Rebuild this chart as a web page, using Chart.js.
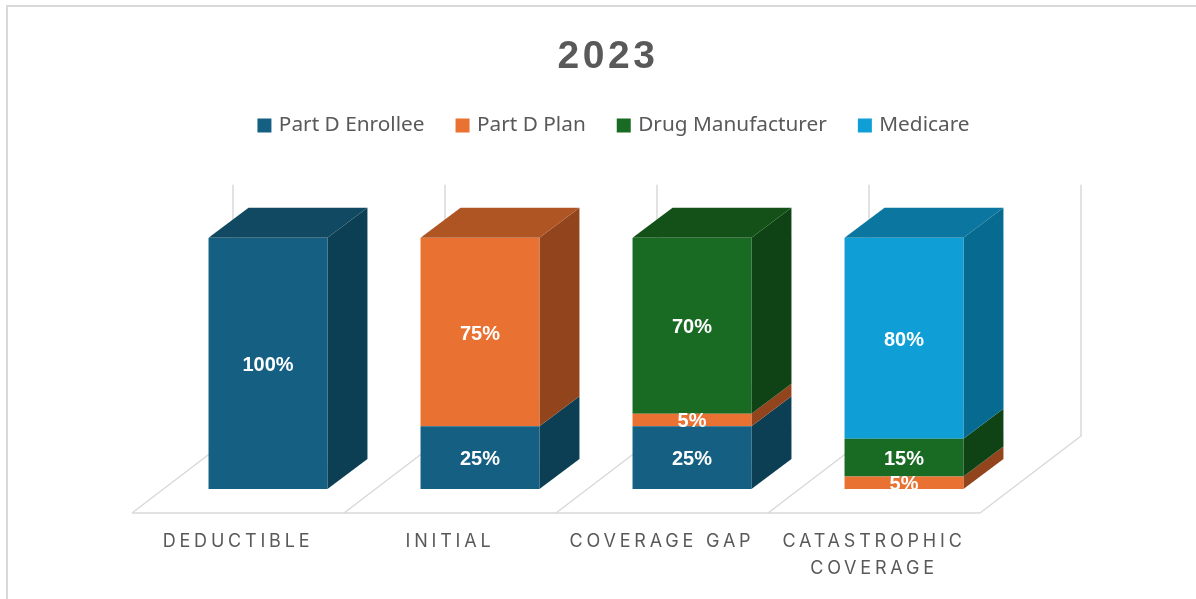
<!DOCTYPE html>
<html>
<head>
<meta charset="utf-8">
<title>2023</title>
<style>
    html, body { margin: 0; padding: 0; background: #fff; overflow: hidden; }
    #frame { position: absolute; left: 6px; top: 5px; right: 0; bottom: 0; border-left: 2px solid #d9d9d9; border-top: 2px solid #d9d9d9; }
    #chart { position: absolute; left: 0; top: 0; }
</style>
</head>
<body>
<div id="frame"></div>
<canvas id="chart" width="1196" height="599"></canvas>
<script src="https://cdn.jsdelivr.net/npm/chart.js@4"></script>
<script>
// Coverage phases and who pays what share (%) in each
const phases = ['DEDUCTIBLE', 'INITIAL', 'COVERAGE GAP', ['CATASTROPHIC', 'COVERAGE']];
const enrollee = [100, 25, 25, 0];
const plan = [0, 75, 5, 5];
const manufacturer = [0, 0, 70, 15];
const medicare = [0, 0, 0, 80];

const TEXT_COLOR = '#595959';
const GRID_COLOR = '#d9d9d9';

// front, side and top face colours of each payer
const FACES = {
    enrollee: ['#156082', '#0c3f53', '#124962'],
    plan: ['#e97132', '#92451d', '#af5524'],
    manufacturer: ['#196b24', '#0f4316', '#135119'],
    medicare: ['#0f9ed5', '#076a90', '#0b77a0']
};

// Fake 3D offsets in px: bar depth, and floor edges relative to the bar base
const BAR_DX = 40, BAR_DY = 30;
const FLOOR_FRONT_DX = 30, FLOOR_FRONT_DY = 24;
const FLOOR_BACK_DX = 71, FLOOR_BACK_DY = 53;

const TITLE_CENTER = 608, LEGEND_CENTER = 615, LEGEND_TOP = 81;

function series(label, data, faces) {
    return { label, data, backgroundColor: faces[0], sideColor: faces[1], topColor: faces[2], borderWidth: 0 };
}

function poly(ctx, color, pts) {
    ctx.fillStyle = color;
    ctx.beginPath();
    pts.forEach((p, i) => i ? ctx.lineTo(p[0], p[1]) : ctx.moveTo(p[0], p[1]));
    ctx.closePath();
    ctx.fill();
}

// Runs a draw method with canvas letter spacing turned on
function spaced(ctx, box, method, spacing) {
    const original = box[method].bind(box);
    box[method] = function (arg) {
        ctx.save();
        ctx.letterSpacing = spacing;
        original(arg);
        ctx.restore();
    };
}

// Title and legend sit apart from the plot, so place them after the layout pass
const headerPlugin = {
    id: 'header',
    afterLayout(chart) {
        const title = chart.titleBlock, legend = chart.legend;
        const half = (title.right - title.left) / 2;
        title.left = TITLE_CENTER - half;
        title.right = TITLE_CENTER + half;
        legend.left = LEGEND_CENTER - half;
        legend.right = LEGEND_CENTER + half;
        const h = legend.bottom - legend.top;
        legend.top = LEGEND_TOP;
        legend.bottom = LEGEND_TOP + h;
        spaced(chart.ctx, title, 'draw', '3.5px');
        spaced(chart.ctx, chart.scales.x, 'drawLabels', '3.8px');
    }
};

// Floor, back wall lines and the side/top faces of the bars
const depthPlugin = {
    id: 'depth',
    beforeDatasetsDraw(chart) {
        const { ctx, scales: { x, y } } = chart;
        const base = y.getPixelForValue(0), top = y.getPixelForValue(100);
        const step = x.getPixelForValue(1) - x.getPixelForValue(0);
        const start = x.getPixelForValue(0) - step / 2;

        ctx.save();
        ctx.strokeStyle = GRID_COLOR;
        ctx.lineWidth = 1.5;
        ctx.beginPath();
        ctx.moveTo(start - FLOOR_FRONT_DX, base + FLOOR_FRONT_DY);
        ctx.lineTo(start + step * phases.length - FLOOR_FRONT_DX, base + FLOOR_FRONT_DY);
        for (let i = 0; i <= phases.length; i++) {
            const px = start + step * i;
            ctx.moveTo(px - FLOOR_FRONT_DX, base + FLOOR_FRONT_DY);
            ctx.lineTo(px + FLOOR_BACK_DX, base - FLOOR_BACK_DY);
            ctx.lineTo(px + FLOOR_BACK_DX, top - FLOOR_BACK_DY);
        }
        ctx.stroke();

        chart.data.datasets.forEach((ds, d) => {
            chart.getDatasetMeta(d).data.forEach((bar, i) => {
                if (!ds.data[i]) return;
                const left = bar.x - bar.width / 2, right = bar.x + bar.width / 2;
                poly(ctx, ds.sideColor, [
                    [right, bar.y], [right + BAR_DX, bar.y - BAR_DY],
                    [right + BAR_DX, bar.base - BAR_DY], [right, bar.base]
                ]);
                // only the last non-empty segment of a stack shows its top
                const isTop = chart.data.datasets.slice(d + 1).every(o => !o.data[i]);
                if (isTop) {
                    poly(ctx, ds.topColor, [
                        [left, bar.y], [left + BAR_DX, bar.y - BAR_DY],
                        [right + BAR_DX, bar.y - BAR_DY], [right, bar.y]
                    ]);
                }
            });
        });
        ctx.restore();
    },
    afterDatasetsDraw(chart) {
        const { ctx } = chart;
        ctx.save();
        ctx.fillStyle = '#fff';
        ctx.font = 'bold 20px "Liberation Sans"';
        ctx.textAlign = 'center';
        ctx.textBaseline = 'middle';
        chart.data.datasets.forEach((ds, d) => {
            chart.getDatasetMeta(d).data.forEach((bar, i) => {
                if (!ds.data[i]) return;
                ctx.fillText(ds.data[i] + '%', bar.x, (bar.y + bar.base) / 2 + 2);
            });
        });
        ctx.restore();
    }
};

Chart.defaults.font.family = '"Noto Sans"';
Chart.defaults.color = TEXT_COLOR;

new Chart(document.getElementById('chart').getContext('2d'), {
    type: 'bar',
    data: {
        labels: phases,
        datasets: [
            series('Part D Enrollee', enrollee, FACES.enrollee),
            series('Part D Plan', plan, FACES.plan),
            series('Drug Manufacturer', manufacturer, FACES.manufacturer),
            series('Medicare', medicare, FACES.medicare)
        ]
    },
    options: {
        responsive: false,
        animation: false,
        layout: { padding: { left: 162, right: 186, top: 0, bottom: 0 } },
        barPercentage: 1,
        categoryPercentage: 0.561,
        plugins: {
            tooltip: { enabled: false },
            title: {
                display: true,
                text: '2023',
                color: TEXT_COLOR,
                font: { family: '"Liberation Sans"', size: 39, weight: 'bold', lineHeight: 1 },
                padding: { top: 38, bottom: 96 }
            },
            legend: {
                display: true,
                position: 'top',
                labels: {
                    color: TEXT_COLOR,
                    font: { size: 20.8 },
                    boxWidth: 8,
                    boxHeight: 8,
                    padding: 34,
                    // a thick same-colour stroke keeps the swatch at 14px but closer to its text
                    generateLabels: chart => chart.data.datasets.map((ds, i) => ({
                        text: ds.label,
                        fontColor: TEXT_COLOR,
                        fillStyle: ds.backgroundColor,
                        strokeStyle: ds.backgroundColor,
                        lineWidth: 6,
                        datasetIndex: i
                    }))
                }
            }
        },
        scales: {
            x: {
                stacked: true,
                grid: { display: false, drawTicks: false },
                border: { display: false },
                afterFit: scale => { scale.height = 110; },
                ticks: {
                    color: TEXT_COLOR,
                    font: { family: 'Inter', size: 18, lineHeight: 1.5 },
                    padding: 39,
                    labelOffset: -30,
                    maxRotation: 0,
                    autoSkip: false
                }
            },
            y: { stacked: true, display: false, min: 0, max: 100 }
        }
    },
    plugins: [headerPlugin, depthPlugin]
});
</script>
</body>
</html>
